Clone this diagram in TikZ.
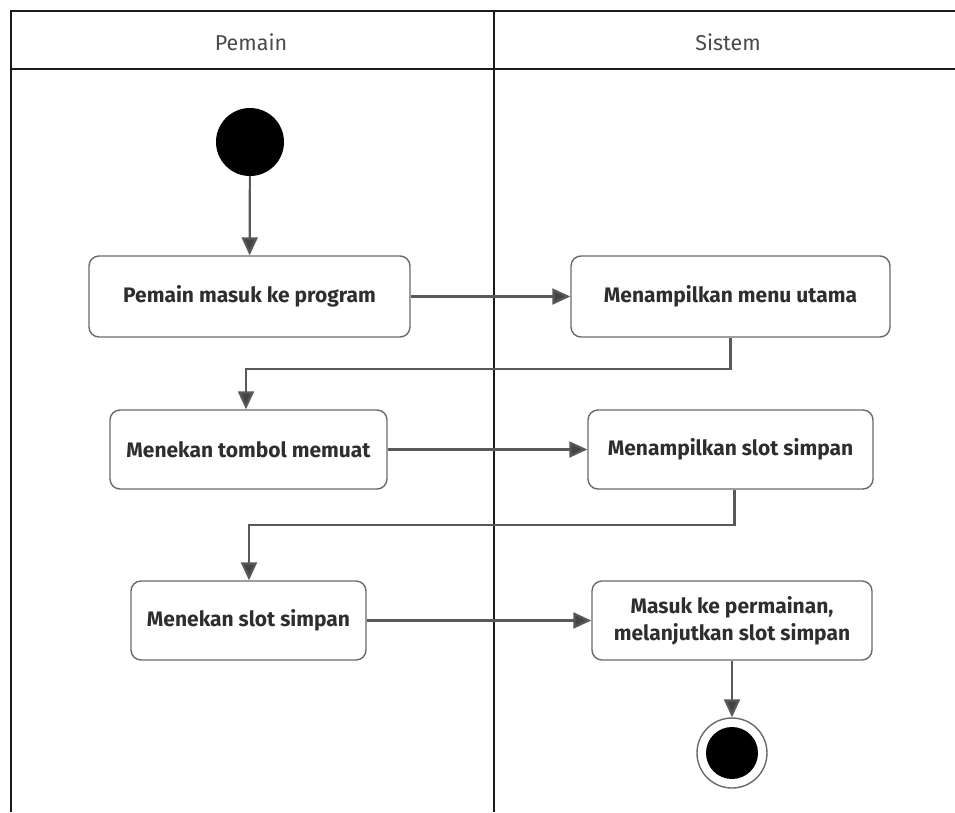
\documentclass[tikz,border=0pt]{standalone}
\usepackage{fontspec}
\setmainfont{Fira Sans}
\usetikzlibrary{arrows.meta}
\definecolor{frameink}{HTML}{1A1A1A}
\definecolor{boxline}{HTML}{6A6A6A}
\definecolor{flowline}{HTML}{595959}
\definecolor{tipfill}{HTML}{444444}
\definecolor{labelink}{HTML}{2E2E2E}
\definecolor{headink}{HTML}{4A4A4A}
\tikzset{
  lane/.style={draw=frameink, line width=2.5pt},
  lanetitle/.style={text=headink, font=\fontsize{21.5}{24}\selectfont},
  actbox/.style={draw=boxline, line width=1.4pt, rounded corners=10pt, fill=white,
    align=center, text=labelink, font=\bfseries\fontsize{21}{27}\selectfont,
    inner sep=0pt},
  flow/.style={draw=flowline, line width=2.2pt,
    -{Triangle[length=18pt, width=16pt, fill=tipfill]}},
  startdot/.style={circle, fill=black, minimum size=68pt, inner sep=0pt},
  endring/.style={circle, draw=boxline, line width=1.4pt, fill=white, minimum size=70pt, inner sep=0pt},
  enddot/.style={circle, fill=black, minimum size=52pt, inner sep=0pt},
}
\begin{document}
\begin{tikzpicture}[x=1pt, y=-1pt]
  \useasboundingbox (0,0) rectangle (955,812);
  \fill[white] (0,0) rectangle (955,812);

  % swimlane frame
  \draw[lane] (11,812) -- (11,11) -- (955,11);
  \draw[lane] (11,69) -- (955,69);
  \draw[lane] (494,11) -- (494,812);
  \node[lanetitle] (lanepemain) at (251,42) {Pemain};
  \node[lanetitle] (lanesistem) at (728,42) {Sistem};

  % activities
  \node[startdot] (start) at (250,142) {};
  \node[actbox, minimum width=321pt, minimum height=81pt] (masuk) at (249.5,296.5) {Pemain masuk ke program};
  \node[actbox, minimum width=319pt, minimum height=81pt] (menu) at (730.5,296.5) {Menampilkan menu utama};
  \node[actbox, minimum width=277pt, minimum height=79pt] (tombol) at (248.5,449.5) {Menekan tombol memuat};
  \node[actbox, minimum width=285pt, minimum height=79pt] (slot) at (730.5,449.5) {Menampilkan slot simpan};
  \node[actbox, minimum width=235pt, minimum height=79pt] (pilih) at (248.5,620.5) {Menekan slot simpan};
  \node[actbox, minimum width=280pt, minimum height=79pt] (lanjut) at (732,620.5) {Masuk ke permainan,\\melanjutkan slot simpan};
  \node[endring] (finish) at (732,753) {};
  \node[enddot] (finishdot) at (finish) {};

  % bend points of the return flows
  \coordinate (turnA) at (246,369);
  \coordinate (turnB) at (249,525);

  % control flow
  \draw[flow] (start) -- (masuk);
  \draw[flow] (masuk) -- (menu);
  \draw[flow] (menu.south) |- (turnA) -- (tombol.north -| turnA);
  \draw[flow] (tombol) -- (slot);
  \draw[flow] ([xshift=4pt]slot.south) |- (turnB) -- (pilih.north -| turnB);
  \draw[flow] (pilih) -- (lanjut);
  \draw[flow] (lanjut) -- (finish);
\end{tikzpicture}
\end{document}
